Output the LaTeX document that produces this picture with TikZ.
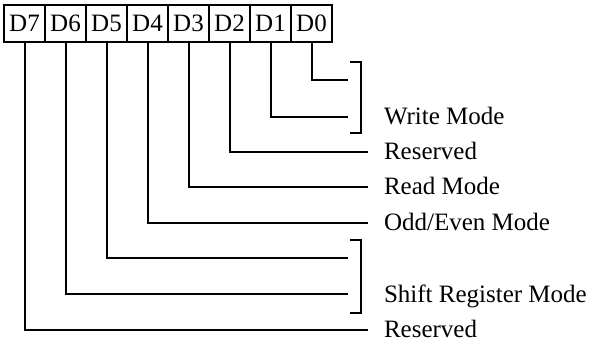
\documentclass[tikz,border=0pt]{standalone}
\usepackage{fontspec}
\setmainfont{Liberation Serif}

\begin{document}
\begin{tikzpicture}[
    x=1pt, y=-1pt,
    line width=2pt,
    bit/.style={draw, minimum width=41pt, minimum height=37pt, inner sep=0pt,
                font=\fontsize{25}{30}\selectfont},
    desc/.style={anchor=base west, inner sep=0pt,
                 font=\fontsize{25}{30}\selectfont},
    wire/.style={draw, line cap=butt},
    brace/.style={draw, line cap=butt, line join=miter}
  ]
  \useasboundingbox (0,0) rectangle (590,344);

  % register bits
  \foreach \b [count=\k from 0] in {7,...,0}
    \node[bit] (d\b) at (24.5+41*\k,23.5) {D\b};

  % descriptions
  \node[desc] (write)  at (383,125) {Write Mode};
  \node[desc] (resA)   at (383,160) {Reserved};
  \node[desc] (read)   at (383,195) {Read Mode};
  \node[desc] (oddev)  at (383,231) {Odd/Even Mode};
  \node[desc] (shift)  at (383,303) {Shift Register Mode};
  \node[desc] (resB)   at (383,338) {Reserved};

  % wire ends
  \coordinate (e0) at (348,80);
  \coordinate (e1) at (348,117);
  \coordinate (e2) at (368,152);
  \coordinate (e3) at (368,187);
  \coordinate (e4) at (368,223);
  \coordinate (e5) at (348,258);
  \coordinate (e6) at (348,294);
  \coordinate (e7) at (368,330);

  \foreach \b in {0,...,7}
    \draw[wire] (d\b.south) |- (e\b);

  % brackets
  \draw[brace] (350,62) -- (361,62) -- (361,133) -- (350,133);
  \draw[brace] (350,240) -- (361,240) -- (361,313) -- (350,313);
\end{tikzpicture}
\end{document}
